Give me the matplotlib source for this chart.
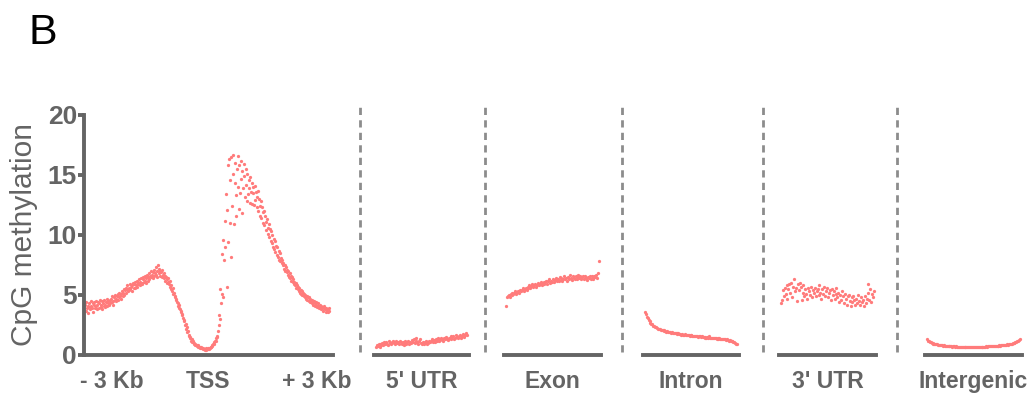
import numpy as np
import matplotlib
matplotlib.use("Agg")
import matplotlib.pyplot as plt
from matplotlib.lines import Line2D

plt.rcParams['font.family'] = ['Liberation Sans', 'DejaVu Sans']

# CpG methylation (%) in bins across -3 kb .. TSS .. +3 kb
tss_profile = [
    4.2, 3.7, 4.4, 3.9, 4.1, 3.5, 4.3, 4.0, 3.8, 4.5, 4.1, 3.9, 4.3, 3.6, 4.2, 4.4, 3.9, 4.1, 4.5, 3.8,
    4.2, 4.4, 3.9, 4.3, 4.6, 4.0, 4.2, 4.5, 3.8, 4.3, 4.1, 4.6, 4.2, 4.0, 4.4, 4.7, 4.1, 4.3, 4.5, 4.2,
    4.6, 4.3, 4.7, 4.4, 4.9, 4.5, 4.2, 4.8, 4.6, 5.0, 4.7, 4.5, 4.9, 5.1, 4.6, 4.8, 5.2, 4.9, 4.7, 5.1,
    5.3, 4.9, 5.2, 5.5, 5.0, 5.4, 5.6, 5.2, 5.5, 5.8, 5.3, 5.6, 5.4, 5.9, 5.5, 5.7, 5.3, 5.8, 6.0, 5.6,
    5.9, 5.6, 6.1, 5.8, 5.7, 6.2, 5.9, 6.0, 6.3, 5.8, 6.1, 6.4, 6.0, 5.9, 6.3, 6.5, 6.1, 6.2, 6.6, 6.0,
    6.4, 6.7, 6.2, 6.5, 6.8, 6.3, 6.6, 7.0, 6.5, 6.7, 6.4, 6.9, 7.1, 6.6, 6.8, 7.3, 6.7, 6.5, 7.0, 7.5,
    6.8, 7.2, 6.6, 7.0, 6.9, 6.5, 7.1, 6.7, 6.4, 6.8, 6.6, 6.2, 6.5, 6.3, 6.0, 6.4, 6.1, 5.9, 6.2, 5.7,
    5.8, 5.5, 5.3, 5.6, 5.1, 5.2, 4.9, 4.8, 4.6, 4.7, 4.4, 4.3, 4.1, 4.2, 3.9, 3.8, 3.6, 3.7, 3.4, 3.3,
    3.1, 2.8, 2.9, 2.5, 2.6, 2.2, 2.3, 1.9, 2.0, 1.7, 1.6, 1.4, 1.5, 1.2, 1.3, 1.1, 1.2, 0.95, 1.0, 0.85,
    0.9, 0.8, 0.85, 0.75, 0.7, 0.8, 0.65, 0.7, 0.6, 0.65, 0.55, 0.6, 0.5, 0.55, 0.5, 0.45, 0.5, 0.55, 0.45, 0.5,
    0.5, 0.55, 0.5, 0.6, 0.55, 0.65, 0.7, 0.75, 0.8, 0.9, 0.95, 1.05, 1.2, 1.15, 1.4, 1.6, 1.5, 2.0, 2.5, 3.3,
    3.0, 5.5, 4.3, 8.4, 5.1, 9.6, 4.8, 7.9, 11.2, 9.0, 13.4, 5.7, 12.1, 15.8, 9.4, 16.3, 11.0, 14.6, 8.2, 16.5,
    12.4, 15.1, 16.7, 10.9, 14.3, 16.0, 13.3, 11.6, 15.5, 16.6, 14.0, 12.2, 15.8, 13.5, 16.2, 14.7, 11.8, 15.3, 13.9, 15.9,
    14.9, 13.2, 15.5, 14.2, 12.8, 15.1, 13.4, 14.6, 13.9, 12.7, 14.8, 13.6, 14.3, 12.6, 14.0, 13.5, 12.5, 14.1, 12.9, 13.6,
    13.2, 12.3, 13.7, 12.0, 13.0, 12.4, 11.6, 12.8, 11.4, 12.3, 11.9, 11.0, 12.0, 10.8, 11.6, 11.1, 10.4, 11.3, 10.6, 10.1,
    10.9, 9.8, 10.5, 9.5, 10.3, 9.3, 10.0, 9.0, 9.7, 8.8, 9.5, 8.6, 9.1, 8.3, 9.0, 8.2, 8.7, 7.9, 8.5, 7.8,
    8.1, 7.7, 7.9, 7.5, 7.7, 7.2, 7.5, 7.0, 7.3, 6.9, 7.1, 6.7, 7.0, 6.5, 6.8, 6.4, 6.6, 6.2, 6.5, 6.1,
    6.3, 5.9, 6.1, 5.8, 6.0, 5.6, 5.8, 5.5, 5.7, 5.3, 5.6, 5.2, 5.4, 5.1, 5.3, 5.0, 5.2, 4.9, 5.1, 4.8,
    5.0, 4.7, 4.9, 4.6, 4.8, 4.5, 4.8, 4.4, 4.7, 4.5, 4.3, 4.6, 4.4, 4.2, 4.5, 4.3, 4.1, 4.4, 4.2, 4.0,
    4.3, 4.1, 3.9, 4.2, 4.0, 3.8, 4.1, 3.9, 4.0, 3.7, 3.9, 4.1, 3.8, 3.6, 3.9, 3.7, 3.8, 3.6, 3.9, 3.7,
]

utr5 = [
    0.65, 0.8, 0.75, 0.9, 0.7, 0.95, 0.85, 1.0, 0.8, 1.05, 0.9, 1.1, 0.95, 0.85, 1.15, 1.0, 0.9, 1.1, 1.0, 1.2,
    1.05, 0.95, 1.15, 1.0, 1.1, 0.9, 1.2, 1.05, 0.95, 1.1, 0.85, 1.0, 1.15, 0.9, 1.05, 1.2, 0.95, 1.1, 1.0, 1.25,
    1.1, 1.3, 1.0, 1.15, 1.4, 1.05, 0.9, 1.2, 1.35, 1.0, 0.95, 1.1, 0.9, 1.05, 1.15, 0.95, 1.1, 1.0, 1.2, 1.05,
    1.15, 1.3, 1.1, 1.25, 1.05, 1.3, 1.2, 1.4, 1.15, 1.35, 1.25, 1.45, 1.3, 1.2, 1.4, 1.3, 1.5, 1.35, 1.25, 1.45,
    1.4, 1.55, 1.3, 1.5, 1.6, 1.35, 1.45, 1.65, 1.5, 1.4, 1.6, 1.7, 1.45, 1.55, 1.75, 1.6, 1.5, 1.7, 1.85, 1.65,
]

exon = [
    4.1, 4.8, 4.9, 5.0, 4.85, 5.1, 5.0, 5.2, 5.05, 5.15, 5.3, 5.1, 5.25, 5.35, 5.2, 5.45, 5.3, 5.4, 5.55, 5.35,
    5.5, 5.6, 5.45, 5.7, 5.55, 5.8, 5.6, 5.75, 5.9, 5.65, 5.8, 5.95, 5.7, 5.85, 6.0, 5.8, 5.9, 6.05, 5.85, 6.0,
    6.1, 5.9, 6.05, 6.2, 5.95, 6.15, 6.35, 6.0, 6.2, 6.1, 6.3, 6.05, 6.25, 6.45, 6.15, 6.3, 6.2, 6.5, 6.25, 6.4,
    6.15, 6.35, 6.6, 6.3, 6.45, 6.2, 6.5, 6.35, 6.7, 6.4, 6.25, 6.55, 6.45, 6.3, 6.6, 6.5, 6.35, 6.65, 6.4, 6.55,
    6.3, 6.5, 6.6, 6.35, 6.55, 6.45, 6.25, 6.5, 6.4, 6.6, 6.3, 6.55, 6.45, 6.35, 6.6, 6.5, 6.7, 6.45, 6.8, 7.8,
]

intron = [
    3.6, 3.4, 3.2, 3.05, 2.9, 2.8, 2.7, 2.6, 2.55, 2.45, 2.4, 2.35, 2.3, 2.25, 2.2, 2.2, 2.15, 2.1, 2.1, 2.05,
    2.05, 2.0, 2.0, 1.95, 2.0, 1.9, 1.95, 1.9, 1.85, 1.9, 1.85, 1.8, 1.85, 1.8, 1.8, 1.75, 1.8, 1.75, 1.75, 1.7,
    1.75, 1.7, 1.7, 1.75, 1.65, 1.7, 1.65, 1.7, 1.6, 1.65, 1.65, 1.6, 1.6, 1.55, 1.6, 1.55, 1.6, 1.5, 1.55, 1.55,
    1.5, 1.55, 1.5, 1.5, 1.45, 1.5, 1.45, 1.5, 1.45, 1.6, 1.45, 1.4, 1.45, 1.4, 1.45, 1.4, 1.4, 1.35, 1.4, 1.35,
    1.4, 1.35, 1.35, 1.3, 1.35, 1.3, 1.3, 1.25, 1.3, 1.25, 1.2, 1.25, 1.2, 1.15, 1.15, 1.1, 1.05, 1.0, 0.95, 0.9,
]

utr3 = [
    4.3, 4.6, 5.4, 4.9, 5.6, 5.1, 5.8, 4.7, 5.5, 5.9, 5.2, 6.0, 4.8, 5.7, 6.3, 5.3, 5.6, 4.5, 5.9, 5.4,
    6.0, 5.7, 4.6, 5.2, 5.8, 4.9, 5.5, 5.1, 4.7, 5.6, 5.3, 5.0, 5.7, 4.8, 5.4, 5.2, 5.6, 4.9, 5.3, 5.5,
    5.0, 5.8, 5.2, 4.7, 5.5, 5.1, 5.7, 4.9, 5.3, 5.6, 4.8, 5.2, 5.4, 4.6, 5.5, 5.0, 5.3, 4.7, 5.6, 5.1,
    4.8, 5.2, 4.4, 5.0, 4.6, 5.3, 4.9, 4.3, 5.1, 4.7, 4.2, 4.9, 5.0, 4.5, 4.1, 4.8, 4.4, 4.9, 4.6, 4.2,
    4.7, 4.3, 5.0, 4.5, 4.2, 4.8, 4.4, 4.6, 4.1, 4.9, 4.3, 4.7, 5.9, 5.2, 4.6, 5.5, 4.4, 5.1, 4.8, 5.3,
]

intergenic = [
    1.3, 1.2, 1.15, 1.1, 1.05, 1.0, 1.0, 0.95, 0.95, 0.9, 0.9, 0.88, 0.85, 0.85, 0.82, 0.8, 0.82, 0.78, 0.8, 0.76,
    0.78, 0.75, 0.77, 0.74, 0.75, 0.72, 0.74, 0.7, 0.73, 0.71, 0.7, 0.72, 0.68, 0.7, 0.69, 0.67, 0.7, 0.66, 0.68, 0.67,
    0.66, 0.68, 0.65, 0.67, 0.64, 0.66, 0.65, 0.67, 0.64, 0.66, 0.65, 0.68, 0.65, 0.67, 0.66, 0.68, 0.66, 0.69, 0.67, 0.7,
    0.68, 0.7, 0.69, 0.72, 0.7, 0.73, 0.71, 0.74, 0.72, 0.75, 0.73, 0.76, 0.75, 0.78, 0.76, 0.79, 0.78, 0.8, 0.79, 0.82,
    0.81, 0.84, 0.83, 0.86, 0.85, 0.88, 0.87, 0.9, 0.92, 0.91, 0.95, 0.97, 1.0, 1.02, 1.05, 1.1, 1.15, 1.2, 1.28, 1.35,
]

tss_tick_labels = ["- 3 Kb", "TSS", "+ 3 Kb"]
region_labels = ["5' UTR", "Exon", "Intron", "3' UTR", "Intergenic"]
region_values = [utr5, exon, intron, utr3, intergenic]
y_ticks = [0, 5, 10, 15, 20]

POINT = "#ff7b7b"
GREY = "#646464"
W, H = 1034, 394
LABEL_SIZE = 16.5
MARK = 5.5

fig = plt.figure(figsize=(W / 100, H / 100), dpi=100)


def fax(x0, x1, y_top=115, y_bot=355):
    return fig.add_axes([x0 / W, (H - y_bot) / H, (x1 - x0) / W, (y_bot - y_top) / H])


# Main TSS profile
ax = fax(84, 333)
n = len(tss_profile)
ax.scatter(np.arange(n), tss_profile, s=MARK, color=POINT, linewidths=0, clip_on=False)
ax.set_xlim(-2, n + 5)
ax.set_ylim(0, 20)
ax.set_yticks(y_ticks)
ax.set_xticks([n * 0.11, n / 2, n * 0.948])
ax.set_xticklabels(tss_tick_labels)
for s in ("top", "right"):
    ax.spines[s].set_visible(False)
for s in ("left", "bottom"):
    ax.spines[s].set_color(GREY)
    ax.spines[s].set_linewidth(2.8)
ax.tick_params(axis="y", length=4, width=2.8, color=GREY, labelcolor=GREY,
               labelsize=19, pad=1)
ax.tick_params(axis="x", length=0, labelcolor=GREY, labelsize=LABEL_SIZE, pad=11)
for lab in ax.get_xticklabels() + ax.get_yticklabels():
    lab.set_fontweight("bold")
ax.set_ylabel("CpG methylation", fontsize=21.5, color=GREY, labelpad=7)

# Genomic-feature panels
panel_spans = [(374, 469), (504, 601), (643, 739), (779, 876), (925, 1022)]
for (x0, x1), label, vals in zip(panel_spans, region_labels, region_values):
    a = fax(x0, x1)
    m = len(vals)
    a.scatter(np.arange(m), vals, s=MARK, color=POINT, linewidths=0, clip_on=False)
    a.set_xlim(-2, m + 1)
    a.set_ylim(0, 20)
    for s in ("top", "right", "left"):
        a.spines[s].set_visible(False)
    a.spines["bottom"].set_color(GREY)
    a.spines["bottom"].set_linewidth(2.8)
    a.set_yticks([])
    a.set_xticks([(m - 1) / 2])
    a.set_xticklabels([label])
    a.tick_params(axis="x", length=0, labelcolor=GREY, labelsize=LABEL_SIZE, pad=11)
    for lab in a.get_xticklabels():
        lab.set_fontweight("bold")

# Dashed separators between panels
for xp in (360, 485, 622, 763, 897):
    fig.add_artist(Line2D([xp / W, xp / W], [(H - 352) / H, (H - 103) / H],
                          transform=fig.transFigure, color="#8c8c8c",
                          linewidth=2.0, linestyle=(0, (2.6, 1.9))))

fig.text(29 / W, (H - 44) / H, "B", fontsize=31, color="black", ha="left", va="baseline")

fig.savefig("out.png", dpi=100)
